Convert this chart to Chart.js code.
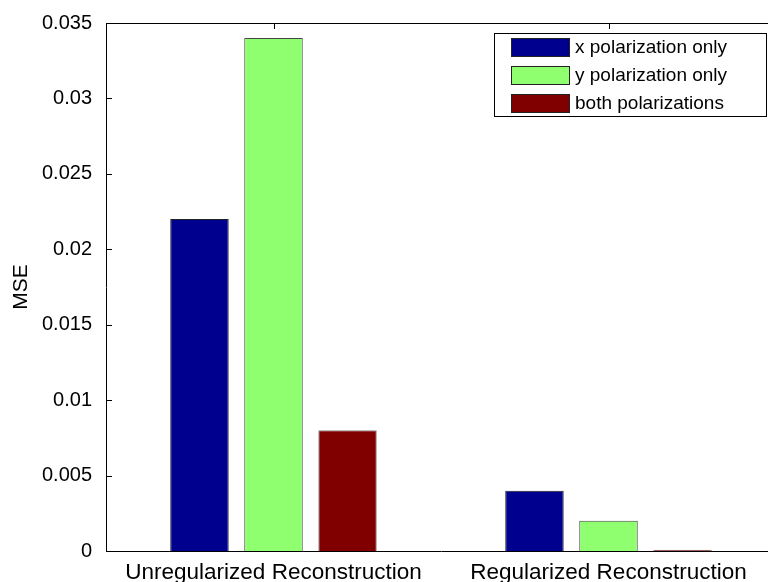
<!DOCTYPE html>
<html>
<head>
<meta charset="utf-8">
<script src="https://cdn.jsdelivr.net/npm/chart.js@4.4.0/dist/chart.umd.min.js"></script>
<style>
  html, body { margin: 0; padding: 0; background: #fff; overflow: hidden; }
  #wrap { width: 800px; height: 582px; }
</style>
</head>
<body>
<div id="wrap"><canvas id="mseChart" width="800" height="582"></canvas></div>
<script>
// data
const categories = ['Unregularized Reconstruction', 'Regularized Reconstruction'];
const xOnly = [0.022, 0.004];
const yOnly = [0.034, 0.002];
const bothPol = [0.008, 0.00008];
const seriesNames = ['x polarization only', 'y polarization only', 'both polarizations'];
const yTicks = [0, 0.005, 0.01, 0.015, 0.02, 0.025, 0.03, 0.035];
const yTickLabels = ['0', '0.005', '0.01', '0.015', '0.02', '0.025', '0.03', '0.035'];

const FONT = "'Liberation Sans', Arial, Helvetica, sans-serif";

// matlab-ish axes: inner ticks, top box line, and the legend box in the corner
const matlabAxes = {
  id: 'matlabAxes',
  afterDatasetsDraw(chart) {
    const ctx = chart.ctx;
    const a = chart.chartArea;
    const ys = chart.scales.y, xs = chart.scales.x;
    ctx.save();
    ctx.strokeStyle = '#000';
    ctx.lineWidth = 1;
    ctx.beginPath();
    ctx.moveTo(a.left, a.top + 0.5);
    ctx.lineTo(a.right, a.top + 0.5);
    yTicks.forEach(v => {
      const py = Math.round(ys.getPixelForValue(v)) + 0.5;
      ctx.moveTo(a.left, py);
      ctx.lineTo(a.left + 6, py);
    });
    categories.forEach((c, i) => {
      const px = Math.round(xs.getPixelForValue(i)) + 0.5;
      ctx.moveTo(px, a.top);
      ctx.lineTo(px, a.top + 6);
    });
    ctx.stroke();

    // legend
    const bx = 494, by = 33, bw = 272, bh = 83;
    ctx.fillStyle = '#fff';
    ctx.fillRect(bx, by, bw, bh);
    ctx.strokeRect(bx + 0.5, by + 0.5, bw, bh);
    ctx.font = '19px ' + FONT;
    ctx.textBaseline = 'middle';
    chart.data.datasets.forEach((ds, i) => {
      const cy = by + 14 + i * 28;
      ctx.fillStyle = ds.backgroundColor;
      ctx.fillRect(511, cy - 9, 58, 18);
      ctx.strokeStyle = '#222';
      ctx.strokeRect(511.5, cy - 8.5, 58, 18);
      ctx.fillStyle = '#000';
      ctx.fillText(ds.label, 575, cy + 1);
    });
    ctx.restore();
  }
};

new Chart(document.getElementById('mseChart').getContext('2d'), {
  type: 'bar',
  data: {
    labels: categories,
    datasets: [
      { label: seriesNames[0], data: xOnly, backgroundColor: '#00008f', borderColor: '#222', borderWidth: 1 },
      { label: seriesNames[1], data: yOnly, backgroundColor: '#8fff70', borderColor: '#444', borderWidth: 1 },
      { label: seriesNames[2], data: bothPol, backgroundColor: '#800000', borderColor: '#888', borderWidth: 1 }
    ]
  },
  options: {
    responsive: false,
    animation: false,
    layout: { padding: { top: 23, right: 24, left: 0, bottom: 0 } },
    datasets: { bar: { categoryPercentage: 0.663, barPercentage: 0.79 } },
    plugins: {
      legend: { display: false },
      tooltip: { enabled: false }
    },
    scales: {
      x: {
        grid: { display: false },
        border: { color: '#000', width: 1 },
        ticks: { color: '#000', font: { family: FONT, size: 22.5 }, padding: 0, maxRotation: 0 },
        afterFit(s) { s.height = 31; }
      },
      y: {
        min: 0,
        max: 0.035,
        grid: { display: false },
        border: { color: '#000', width: 1 },
        afterBuildTicks(s) { s.ticks = yTicks.map(v => ({ value: v })); },
        ticks: {
          color: '#000',
          padding: 6,
          font: { family: FONT, size: 20 },
          callback: (v, i) => yTickLabels[i]
        },
        title: { display: true, text: 'MSE', color: '#000', font: { family: FONT, size: 21 }, padding: { top: 9, bottom: 0 } },
        afterFit(s) { s.width = 106; }
      }
    }
  },
  plugins: [matlabAxes]
});
</script>
</body>
</html>
